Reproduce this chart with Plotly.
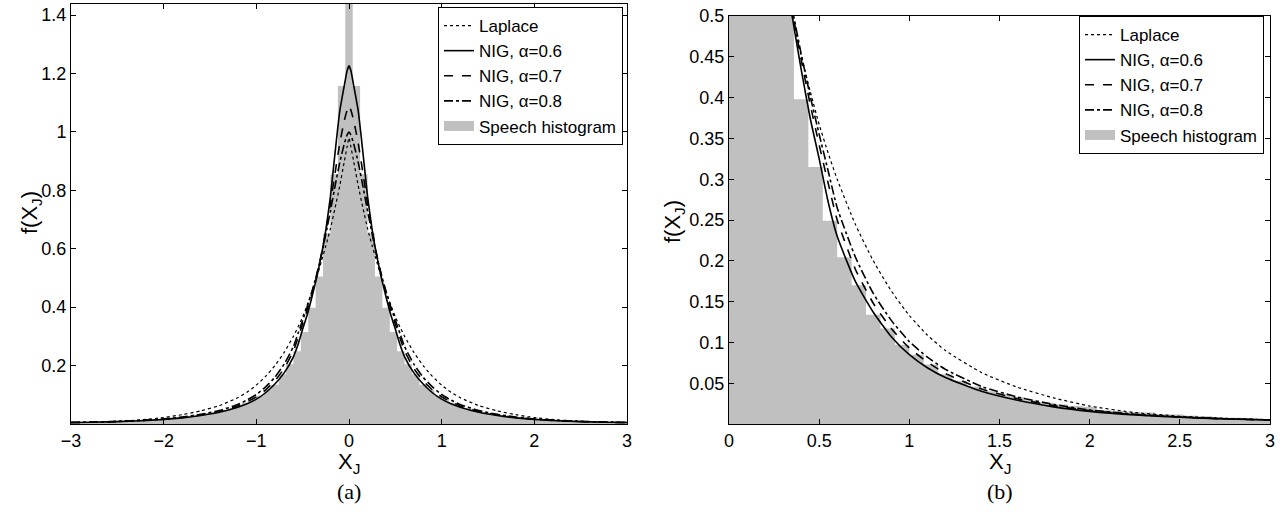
import plotly.graph_objects as go

# ---------------- data ----------------
# histogram: bin width 0.08, bin centres at 0, 0.08, 0.16, ... (positive half, symmetric)
hist_centers = [round(0.08 * k, 2) for k in range(38)]
hist_values = [1.55, 1.157, 0.855, 0.652, 0.505, 0.398, 0.315, 0.249, 0.2045, 0.170,
               0.134, 0.117, 0.097, 0.085, 0.073, 0.061, 0.053, 0.046, 0.040, 0.036,
               0.033, 0.029, 0.026, 0.024, 0.022, 0.021, 0.017, 0.016, 0.0145, 0.014,
               0.012, 0.0115, 0.010, 0.0095, 0.008, 0.0078, 0.0065, 0.006]
bin_width = 0.08

# density curves (positive half, symmetric about 0)
x_curve = [0, 0.02, 0.05, 0.1, 0.15, 0.2, 0.25, 0.3, 0.35, 0.4, 0.45, 0.5, 0.55, 0.6,
           0.7, 0.8, 0.9, 1.0, 1.1, 1.2, 1.4, 1.6, 1.8, 2.0, 2.25, 2.5, 2.75, 3.0]
laplace = [0.98, 0.95, 0.9, 0.815, 0.74, 0.67, 0.61, 0.555, 0.5, 0.452, 0.408, 0.367, 0.332, 0.3,
           0.245, 0.2, 0.163, 0.133, 0.109, 0.09, 0.063, 0.045, 0.032, 0.022, 0.014, 0.0095, 0.007, 0.0053]
nig_06 = [1.226, 1.21, 1.16, 1.07, 0.93, 0.78, 0.665, 0.575, 0.5, 0.435, 0.375, 0.325, 0.272, 0.23,
          0.175, 0.137, 0.107, 0.085, 0.069, 0.057, 0.040, 0.029, 0.021, 0.0155, 0.011, 0.0082, 0.0062, 0.0049]
nig_07 = [1.09, 1.075, 1.04, 0.96, 0.86, 0.755, 0.66, 0.578, 0.508, 0.447, 0.392, 0.342, 0.295, 0.25,
          0.19, 0.148, 0.117, 0.093, 0.076, 0.062, 0.043, 0.031, 0.0225, 0.0165, 0.0115, 0.0084, 0.0063, 0.0049]
nig_08 = [1.0, 0.99, 0.96, 0.895, 0.815, 0.73, 0.65, 0.575, 0.51, 0.454, 0.402, 0.355, 0.31, 0.265,
          0.205, 0.16, 0.127, 0.101, 0.082, 0.067, 0.046, 0.033, 0.024, 0.0172, 0.012, 0.0087, 0.0065, 0.005]

series = [("Laplace", laplace, "dot", 1.2),
          ("NIG, α=0.6", nig_06, "solid", 1.6),
          ("NIG, α=0.7", nig_07, "dash", 1.6),
          ("NIG, α=0.8", nig_08, "dashdot", 1.6)]

left_xticks = [-3, -2, -1, 0, 1, 2, 3]
left_xticktext = ["−3", "−2", "−1", "0", "1", "2", "3"]
left_yticks = [0.2, 0.4, 0.6, 0.8, 1.0, 1.2, 1.4]
left_yticktext = ["0.2", "0.4", "0.6", "0.8", "1", "1.2", "1.4"]
right_xticks = [0, 0.5, 1, 1.5, 2, 2.5, 3]
right_xticktext = ["0", "0.5", "1", "1.5", "2", "2.5", "3"]
right_yticks = [0.05, 0.1, 0.15, 0.2, 0.25, 0.3, 0.35, 0.4, 0.45, 0.5]
right_yticktext = ["0.05", "0.1", "0.15", "0.2", "0.25", "0.3", "0.35", "0.4", "0.45", "0.5"]

# ---------------- build symmetric arrays ----------------
full_centers = [-c for c in reversed(hist_centers[1:])] + hist_centers
full_vals = list(reversed(hist_values[1:])) + hist_values
edges = [c - bin_width / 2 for c in full_centers] + [full_centers[-1] + bin_width / 2]
edge_vals = full_vals + [full_vals[-1]]

xs_full = [-x for x in reversed(x_curve[1:])] + x_curve

W, H = 1285, 512
def px(v): return v / W
def py(v): return 1 - v / H

fig = go.Figure()
GRAY = "#c0c0c0"
FONT = "Liberation Sans, Arial, sans-serif"

for ax, leg in (("1", "legend"), ("2", "legend2")):
    xa = "x" if ax == "1" else "x2"
    ya = "y" if ax == "1" else "y2"
    fig.add_trace(go.Scatter(x=edges, y=edge_vals, mode="lines", line=dict(shape="hv", width=0, color=GRAY),
                             fill="tozeroy", fillcolor=GRAY, name="Speech histogram", showlegend=False,
                             xaxis=xa, yaxis=ya, hoverinfo="skip"))
    # legend entry for the histogram (thick gray swatch)
    fig.add_trace(go.Scatter(x=[None], y=[None], mode="lines", line=dict(width=16, color=GRAY),
                             name="Speech histogram", xaxis=xa, yaxis=ya, legend=leg, legendrank=1000))
    for i, (name, vals, dash, w) in enumerate(series):
        yfull = list(reversed(vals[1:])) + vals
        fig.add_trace(go.Scatter(x=xs_full, y=yfull, mode="lines", name=name,
                                 line=dict(color="black", dash=dash, width=w, shape="spline", smoothing=0.5),
                                 xaxis=xa, yaxis=ya, legend=leg, legendrank=i + 1))

axis_common = dict(showline=True, linecolor="black", linewidth=1, mirror="ticks", ticks="inside",
                   ticklen=5, tickcolor="black", showgrid=False, zeroline=False, automargin=False,
                   tickfont=dict(family=FONT, size=18, color="black"))

legend_common = dict(xanchor="right", yanchor="top", bgcolor="white",
                     bordercolor="black", borderwidth=1, font=dict(family=FONT, size=17, color="black"),
                     itemwidth=30, tracegroupgap=0)

fig.update_layout(
    width=W, height=H, margin=dict(l=0, r=0, t=0, b=0, autoexpand=False),
    paper_bgcolor="white", plot_bgcolor="white", showlegend=True,
    xaxis=dict(domain=[px(71), px(627)], range=[-3, 3], tickvals=left_xticks, ticktext=left_xticktext,
               anchor="y", **axis_common),
    yaxis=dict(domain=[py(424), py(4)], range=[0, 1.438], tickvals=left_yticks, ticktext=left_yticktext,
               anchor="x", **axis_common),
    xaxis2=dict(domain=[px(729), px(1270)], range=[0, 3], tickvals=right_xticks, ticktext=right_xticktext,
                anchor="y2", **axis_common),
    yaxis2=dict(domain=[py(424), py(16)], range=[0, 0.5], tickvals=right_yticks, ticktext=right_yticktext,
                anchor="x2", **axis_common),
    legend=dict(x=px(623), y=py(7), **legend_common),
    legend2=dict(x=px(1264), y=py(16), **legend_common),
)

ann = []
ann.append(dict(text="f(X<sub>J</sub>)", x=px(31), y=py(213), textangle=-90))
ann.append(dict(text="f(X<sub>J</sub>)", x=px(674), y=py(222), textangle=-90))
ann.append(dict(text="X<sub>J</sub>", x=px(349), y=py(463)))
ann.append(dict(text="X<sub>J</sub>", x=px(1000), y=py(463)))
for a in ann:
    a.update(xref="paper", yref="paper", showarrow=False, xanchor="center", yanchor="middle",
             font=dict(family=FONT, size=22, color="black"))
ann.append(dict(text="(a)", x=px(349), y=py(491), xref="paper", yref="paper", showarrow=False,
                xanchor="center", yanchor="middle",
                font=dict(family="Liberation Serif, Times New Roman, serif", size=22, color="black")))
ann.append(dict(text="(b)", x=px(1000), y=py(491), xref="paper", yref="paper", showarrow=False,
                xanchor="center", yanchor="middle",
                font=dict(family="Liberation Serif, Times New Roman, serif", size=22, color="black")))
fig.update_layout(annotations=ann)

fig.write_html("out.html", config={"displayModeBar": False},
               post_script="document.body.style.margin='0px';")
